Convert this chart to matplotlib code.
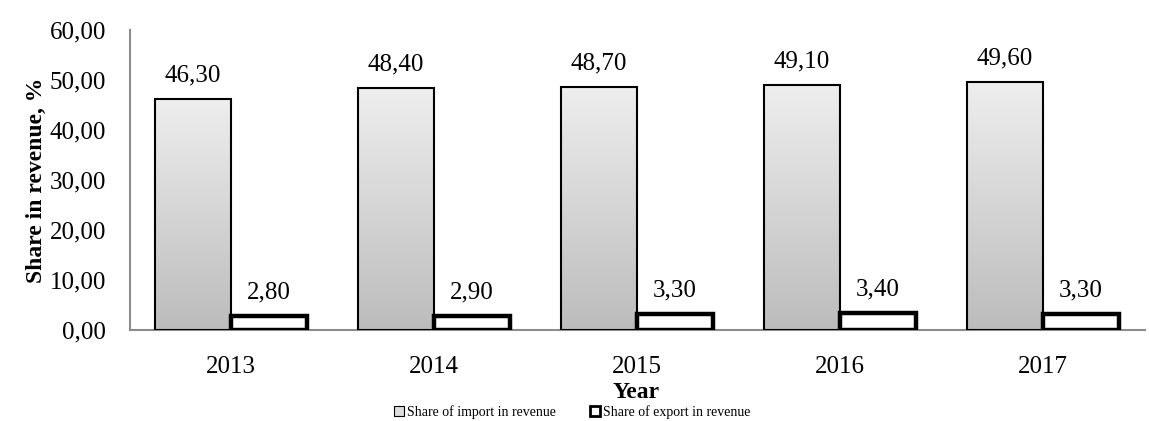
import matplotlib
matplotlib.use("Agg")
import matplotlib.pyplot as plt
import numpy as np
from matplotlib.colors import LinearSegmentedColormap
from matplotlib.patches import Rectangle

years = ["2013", "2014", "2015", "2016", "2017"]
import_share = [46.30, 48.40, 48.70, 49.10, 49.60]
export_share = [2.80, 2.90, 3.30, 3.40, 3.30]
yticks = [0, 10, 20, 30, 40, 50, 60]


def fmt(v):
    return f"{v:.2f}".replace(".", ",")


plt.rcParams["font.family"] = ["Liberation Serif", "DejaVu Serif"]

fig = plt.figure(figsize=(11.49, 4.21), dpi=100)
ax = fig.add_axes([129.5 / 1149, 1 - 330 / 421, 1015 / 1149, 300 / 421])

x = np.arange(len(years))
w = 0.374
grad = LinearSegmentedColormap.from_list("g", ["#bcbcbc", "#eeeeee"])

imp = ax.bar(x - w / 2, import_share, width=w, color="none",
             edgecolor="black", linewidth=1.5, zorder=3)
exp = ax.bar(x + w / 2, export_share, width=w, color="white",
             edgecolor="black", linewidth=3.2, zorder=3)

# vertical gradient inside the import bars
g = np.linspace(0, 1, 256).reshape(-1, 1)
for b in imp:
    x0, y0 = b.get_x(), b.get_y()
    bw, bh = b.get_width(), b.get_height()
    im = ax.imshow(g, cmap=grad, origin="lower", aspect="auto",
                   extent=[x0, x0 + bw, y0, y0 + bh], zorder=2)
    im.set_clip_path(b)

for bars, vals in ((imp, import_share), (exp, export_share)):
    for b, v in zip(bars, vals):
        ax.annotate(fmt(v), (b.get_x() + b.get_width() / 2, v),
                    xytext=(0, 9), textcoords="offset points",
                    ha="center", va="bottom", fontsize=18)

ax.set_xlim(-0.5, len(years) - 0.5)
ax.set_ylim(0, 60)
ax.set_xticks(x)
ax.set_xticklabels(years, fontsize=18)
ax.set_yticks(yticks)
ax.set_yticklabels([fmt(t) for t in yticks], fontsize=18)
ax.tick_params(axis="x", length=0, pad=19)
ax.tick_params(axis="y", length=0, pad=17)
for s in ("top", "right"):
    ax.spines[s].set_visible(False)
for s in ("left", "bottom"):
    ax.spines[s].set_color("#8c8c8c")
    ax.spines[s].set_linewidth(1.5)
ax.set_ylabel("Share in revenue, %", fontsize=17, fontweight="bold", labelpad=2)

fig.text(636 / 1149, 1 - 392 / 421, "Year", ha="center", va="center",
         fontsize=17, fontweight="bold")

h1 = Rectangle((0, 0), 1, 1, facecolor="#dddddd", edgecolor="black", linewidth=0.8)
h2 = Rectangle((0, 0), 1, 1, facecolor="white", edgecolor="black", linewidth=2)
fig.legend([h1, h2], ["Share of import in revenue", "Share of export in revenue"],
           loc="center", bbox_to_anchor=(572 / 1149, 1 - 412 / 421), ncol=2,
           frameon=True, facecolor="white", edgecolor="none", framealpha=1,
           fontsize=10, handlelength=0.7, handleheight=0.7, handletextpad=0.2,
           columnspacing=2.5, borderpad=0.1)

fig.savefig("out.png", dpi=100)
